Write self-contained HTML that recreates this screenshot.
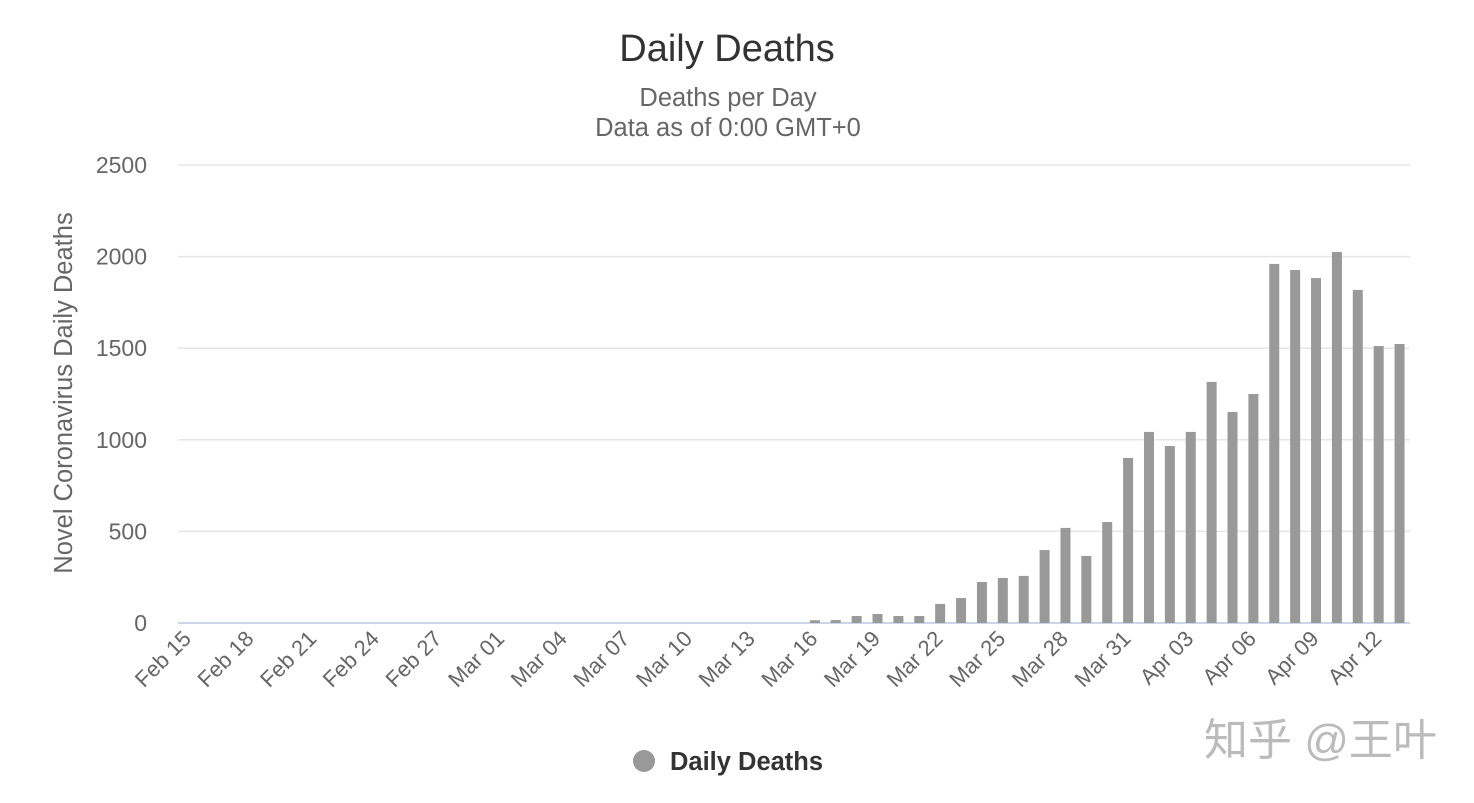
<!DOCTYPE html>
<html><head><meta charset="utf-8"><style>
body{margin:0;background:#fff;width:1474px;height:798px;overflow:hidden;font-family:"Liberation Sans","Noto Sans CJK SC",sans-serif}
</style></head><body>
<svg id="chart" width="1474" height="798" xmlns="http://www.w3.org/2000/svg">
<text x="727" y="61" text-anchor="middle" font-size="38" fill="#333">Daily Deaths</text>
<text x="728" y="106" text-anchor="middle" font-size="25.5" fill="#666">Deaths per Day</text>
<text x="728" y="136" text-anchor="middle" font-size="25.5" fill="#666">Data as of 0:00 GMT+0</text>
<text transform="translate(72,393) rotate(-90)" text-anchor="middle" font-size="25.5" fill="#666">Novel Coronavirus Daily Deaths</text>
<g id="grid"></g><g id="bars"></g><g id="xlabels"></g>
<g>
<circle cx="644" cy="761" r="11" fill="#999"/>
<text x="670" y="770" font-size="25.5" font-weight="bold" fill="#333">Daily Deaths</text>
</g>
<text x="1204" y="755" font-size="44" fill="#bbb">知乎 @王叶</text>
</svg>
<script>
const categories=[];
(function(){const m=['Feb','Mar','Apr'];for(let i=0;i<59;i++){const dd=new Date(2020,1,15+i);categories.push(m[dd.getMonth()-1]+' '+String(dd.getDate()).padStart(2,'0'));}})();
const deaths=[0,0,0,0,0,0,0,0,0,0,0,0,0,0,0,0,0,0,0,0,0,0,0,0,0,0,0,0,0,0,
15,16,38,49,38,38,104,136,224,246,257,398,519,366,551,901,1043,966,1043,1316,1152,1250,1960,1927,1883,2025,1818,1512,1523];
const yTicks=[0,500,1000,1500,2000,2500];
const NS='http://www.w3.org/2000/svg';
const x0=178,x1=1410,yb=623,yt=165,ymax=2500;
const step=(x1-x0)/categories.length;
const yS=v=>yb-(v/ymax)*(yb-yt);
const xS=i=>x0+step*(i+0.5);
function mk(t,a,p){const e=document.createElementNS(NS,t);for(const k in a)e.setAttribute(k,a[k]);p.appendChild(e);return e;}
const grid=document.getElementById('grid');
yTicks.forEach(v=>{
 const l=mk('line',{x1:x0,x2:x1,y1:yS(v),y2:yS(v),stroke:v===0?'#ccd6eb':'#e6e6e6','stroke-width':v===0?2:1.5},grid);
 
 
 const t=mk('text',{x:147,y:yS(v)+8,'text-anchor':'end','font-size':23,fill:'#666'},grid);
 t.textContent=v;
 
 
});
const bars=document.getElementById('bars');
deaths.forEach((v,i)=>{
 const h=yb-yS(v);
 const r=mk('rect',{x:xS(i)-5,y:yS(v),width:10,height:Math.max(h,0),fill:'#999'},bars);
 
 
});
const xl=document.getElementById('xlabels');
categories.forEach((c,i)=>{
 if(i%3)return;
 const x=xS(i)+4,y=640;
 const t=mk('text',{x:x,y:y,'text-anchor':'end','font-size':22,fill:'#666',transform:`rotate(-45 ${x} ${y})`},xl);
 t.textContent=c;
 
 
});
</script>
</body></html>
